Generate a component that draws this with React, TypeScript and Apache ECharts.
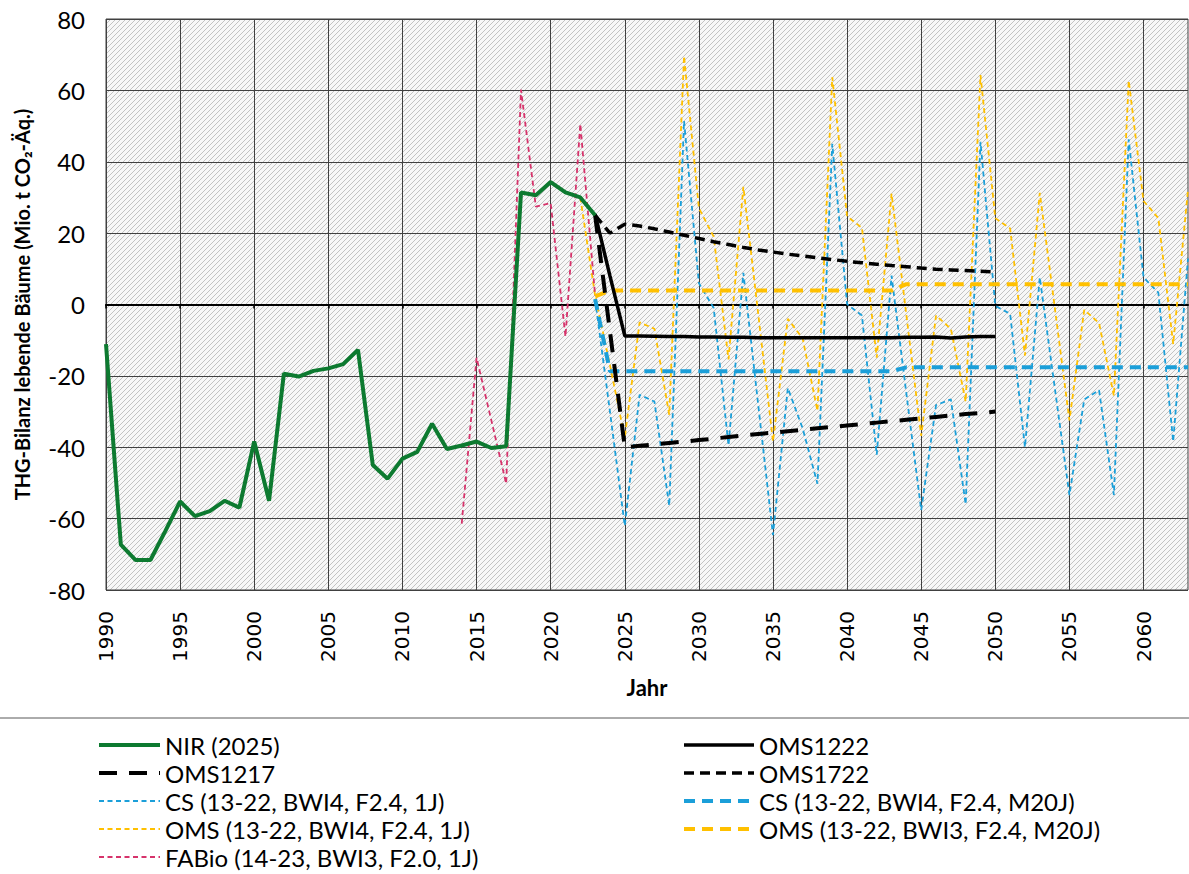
import React, { useEffect, useRef } from "react";
import * as echarts from "echarts";

// Categories
const years: string[] = [];
for (let y = 1990; y <= 2063; y++) years.push(String(y));

// NIR (2025), 1990–2023
const nirStart = 1990;
const nirValues = [
  -11.1, -67.3, -71.6, -71.6, -63.5, -55.2, -59.3, -57.9, -55.0, -56.9,
  -38.4, -55.0, -19.4, -20.2, -18.6, -17.9, -16.7, -12.7, -45.0, -48.8,
  -43.2, -41.3, -33.4, -40.5, -39.5, -38.4, -40.2, -39.7, 31.4, 30.6,
  34.3, 31.4, 30.0, 25.0,
];

// OMS1222, 2023–2050
const oms1222Start = 2023;
const oms1222Values = [
  25.3, 8.0, -8.8, -8.8, -8.9, -9.0, -9.0, -9.1, -9.1, -9.2,
  -9.2, -9.3, -9.3, -9.3, -9.3, -9.3, -9.3, -9.3, -9.3, -9.3,
  -9.3, -9.2, -9.2, -9.1, -9.4, -9.1, -9.0, -9.0,
];

// OMS1217, 2023–2050
const oms1217Start = 2023;
const oms1217Values = [
  25.0, -7.5, -40.0, -39.6, -39.2, -38.8, -38.4, -38.0, -37.6, -37.1,
  -36.7, -36.3, -35.9, -35.5, -35.1, -34.7, -34.3, -33.9, -33.5, -33.1,
  -32.7, -32.3, -31.9, -31.5, -31.1, -30.7, -30.4, -30.0,
];

// OMS1722, 2023–2050
const oms1722Start = 2023;
const oms1722Values = [
  25.0, 20.0, 22.5, 22.0, 21.2, 20.3, 19.4, 18.5, 17.6, 16.8,
  16.0, 15.3, 14.7, 14.1, 13.6, 13.1, 12.6, 12.1, 11.7, 11.3,
  10.9, 10.6, 10.2, 9.9, 9.7, 9.5, 9.3, 9.1,
];

// CS (13-22, BWI4, F2.4, 1J), 2023–2063
const cs1jStart = 2023;
const cs1jValues = [
  1.5, -30.0, -62.0, -25.3, -27.2, -56.4, 51.4, 6.0, -1.0, -39.5,
  8.9, -28.0, -64.6, -23.4, -34.7, -50.2, 45.0, 0.1, -3.1, -42.1,
  8.1, -25.0, -57.6, -28.2, -26.6, -56.0, 45.6, -0.4, -2.6, -40.0,
  7.6, -23.0, -53.4, -26.6, -24.0, -53.4, 46.3, 7.6, 3.3, -38.4,
  12.9,
];

// CS (13-22, BWI4, F2.4, M20J), 2023–2063
const csM20Start = 2023;
const csM20Values = [
  1.5, -18.7, -18.7, -18.7, -18.7, -18.7, -18.7, -18.7, -18.7, -18.7,
  -18.7, -18.7, -18.7, -18.7, -18.7, -18.7, -18.7, -18.7, -18.7, -18.7,
  -18.7, -17.6, -17.6, -17.6, -17.6, -17.6, -17.6, -17.6, -17.6, -17.6,
  -17.6, -17.6, -17.6, -17.6, -17.6, -17.6, -17.6, -17.6, -17.6, -17.6,
  -17.6,
];

// OMS (13-22, BWI4, F2.4, 1J), 2022–2063
const oms1jStart = 2022;
const oms1jValues = [
  30.0, 2.5, -17.0, -37.3, -5.0, -6.8, -30.9, 69.6, 27.0, 19.0,
  -15.4, 33.0, -2.5, -38.4, -4.0, -9.5, -29.8, 63.7, 24.7, 21.5,
  -14.9, 31.1, -3.0, -36.8, -3.1, -6.8, -27.2, 64.3, 24.2, 21.3,
  -14.3, 31.3, -0.5, -32.5, -1.5, -5.2, -25.6, 62.7, 29.0, 24.2,
  -11.1, 32.2,
];

// OMS (13-22, BWI3, F2.4, M20J), 2023–2063
const omsM20Start = 2023;
const omsM20Values = [
  2.3, 3.9, 3.9, 3.9, 3.9, 3.9, 3.9, 3.9, 3.9, 3.9,
  3.9, 3.9, 3.9, 3.9, 3.9, 3.9, 3.9, 3.9, 3.9, 3.9,
  3.9, 5.7, 5.7, 5.7, 5.7, 5.7, 5.7, 5.7, 5.7, 5.7,
  5.7, 5.7, 5.7, 5.7, 5.7, 5.7, 5.7, 5.7, 5.7, 5.7,
  5.7,
];

// FABio (14-23, BWI3, F2.0, 1J), 2014–2023
const fabioStart = 2014;
const fabioValues = [-61.4, -14.9, -32.5, -50.2, 60.2, 27.4, 28.4, -9.0, 50.6, 2.5];

const yTicks = [-80, -60, -40, -20, 0, 20, 40, 60, 80];

const legendLeft = [
  "NIR (2025)",
  "OMS1217",
  "CS (13-22, BWI4, F2.4, 1J)",
  "OMS (13-22, BWI4, F2.4, 1J)",
  "FABio (14-23, BWI3, F2.0, 1J)",
];
const legendRight = [
  "OMS1222",
  "OMS1722",
  "CS (13-22, BWI4, F2.4, M20J)",
  "OMS (13-22, BWI3, F2.4, M20J)",
];

function pad(start: number, values: number[]): (number | null)[] {
  const out: (number | null)[] = years.map(() => null);
  values.forEach((v, i) => {
    const idx = start - 1990 + i;
    if (idx >= 0 && idx < out.length) out[idx] = v;
  });
  return out;
}

const FONT = "Lato";
const BLUE = "#1b9fd9";
const YELLOW = "#ffc000";
const PINK = "#d6336b";
const GREEN = "#0d7a30";

export default function App() {
  const ref = useRef<HTMLDivElement>(null);
  useEffect(() => {
    document.body.style.margin = "0";
    if (!ref.current) return;
    const chart = echarts.init(ref.current, null, { renderer: "svg" });

    const c = document.createElement("canvas");
    c.width = 5;
    c.height = 5;
    const ctx = c.getContext("2d")!;
    ctx.fillStyle = "#f7f7f7";
    ctx.fillRect(0, 0, 5, 5);
    ctx.strokeStyle = "#c2c2c2";
    ctx.lineWidth = 1;
    ctx.beginPath();
    ctx.moveTo(-1, 6);
    ctx.lineTo(6, -1);
    ctx.moveTo(-1, 1);
    ctx.lineTo(1, -1);
    ctx.moveTo(4, 6);
    ctx.lineTo(6, 4);
    ctx.stroke();

    const line = (
      name: string,
      start: number,
      values: number[],
      color: string,
      width: number,
      type: any,
      z: number
    ) => ({
      name,
      type: "line",
      data: pad(start, values),
      symbol: "none",
      showSymbol: false,
      z,
      lineStyle: { color, width, type, cap: "butt" },
      itemStyle: { color },
      emphasis: { disabled: true },
    });

    const legendText = { fontSize: 24, color: "#000", fontFamily: FONT, lineHeight: 24 };
    const legendBase = {
      orient: "vertical",
      top: 733,
      height: 141,
      padding: 0,
      itemHeight: 12,
      itemGap: 4,
      selectedMode: false,
      textStyle: legendText,
      itemStyle: { opacity: 0 },
      lineStyle: { width: "inherit" },
    };

    chart.setOption({
      animation: false,
      grid: {
        left: 106,
        top: 19,
        width: 1082,
        height: 571,
        show: true,
        backgroundColor: { image: c, repeat: "repeat", imageWidth: 5, imageHeight: 5 },
        borderColor: "#404040",
        borderWidth: 1,
      },
      legend: [
        { ...legendBase, left: 97, itemWidth: 61, data: legendLeft },
        { ...legendBase, left: 682, itemWidth: 70, data: legendRight },
      ],
      graphic: [
        {
          type: "line",
          shape: { x1: 0, y1: 718, x2: 1189, y2: 718 },
          style: { stroke: "#595959", lineWidth: 1 },
          silent: true,
        },
      ],
      xAxis: [
        {
          type: "category",
          data: years,
          boundaryGap: false,
          axisLine: { show: false, onZero: false },
          axisTick: { show: false },
          axisLabel: {
            interval: 4,
            rotate: 90,
            fontSize: 20,
            fontFamily: "DejaVu Sans",
            color: "#000",
            margin: 21,
          },
          splitLine: { show: true, interval: 4, lineStyle: { color: "#404040", width: 1 } },
          name: "Jahr",
          nameLocation: "middle",
          nameGap: 86,
          nameTextStyle: { fontSize: 22, fontWeight: "bold", fontFamily: FONT, color: "#000" },
        },
        {
          type: "category",
          data: years,
          boundaryGap: false,
          position: "bottom",
          axisLine: { show: true, onZero: true, lineStyle: { color: "#000", width: 2 } },
          axisTick: { show: true, interval: 4, length: 4, lineStyle: { color: "#000", width: 1.5 } },
          axisLabel: { show: false },
          splitLine: { show: false },
        },
      ],
      yAxis: {
        type: "value",
        min: yTicks[0],
        max: yTicks[yTicks.length - 1],
        interval: 20,
        axisLine: { show: false },
        axisTick: { show: false },
        axisLabel: { fontSize: 24, color: "#000", fontFamily: FONT, margin: 21 },
        splitLine: { lineStyle: { color: "#404040", width: 1 } },
        name: "THG-Bilanz lebende Bäume (Mio. t CO₂-Äq.)",
        nameLocation: "middle",
        nameGap: 74,
        nameTextStyle: { fontSize: 20, fontWeight: "bold", fontFamily: FONT, color: "#000" },
      },
      series: [
        line(legendLeft[2], cs1jStart, cs1jValues, BLUE, 1.8, [5, 3.5], 2),
        line(legendLeft[3], oms1jStart, oms1jValues, YELLOW, 1.8, [5, 3.5], 3),
        line(legendLeft[4], fabioStart, fabioValues, PINK, 1.8, [5, 3.5], 4),
        line(legendRight[2], csM20Start, csM20Values, BLUE, 4, [11, 7], 5),
        line(legendRight[3], omsM20Start, omsM20Values, YELLOW, 4, [11, 7], 6),
        line(legendLeft[1], oms1217Start, oms1217Values, "#000", 4, [18, 12], 7),
        line(legendRight[1], oms1722Start, oms1722Values, "#000", 3.5, [10, 6], 8),
        line(legendRight[0], oms1222Start, oms1222Values, "#000", 3.5, "solid", 9),
        line(legendLeft[0], nirStart, nirValues, GREEN, 4, "solid", 10),
      ],
    });
    return () => chart.dispose();
  }, []);
  return <div ref={ref} style={{ width: 1189, height: 874 }} />;
}
